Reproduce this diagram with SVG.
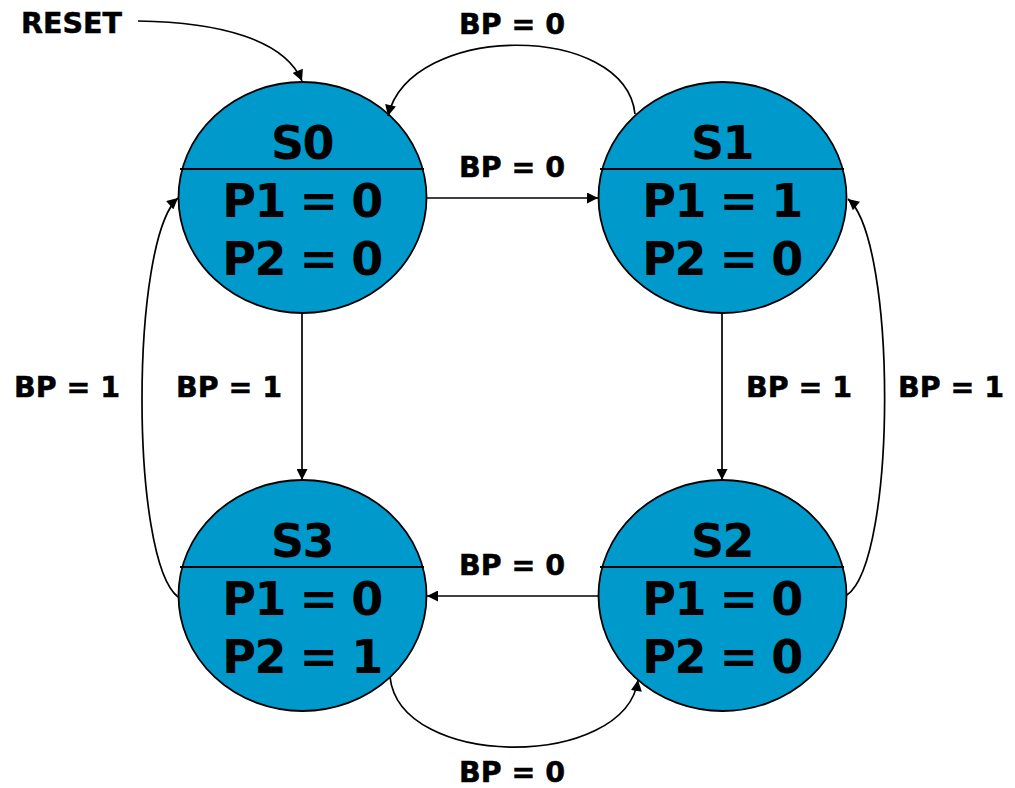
<svg xmlns="http://www.w3.org/2000/svg" width="1015" height="788" viewBox="0 0 1015 788">
<style>
.st{fill:#0099cc;stroke:#000;stroke-width:1.8}
.dv{stroke:#000;stroke-width:1.8}
.big{font-family:"DejaVu Sans",Verdana,sans-serif;font-weight:bold;font-size:46px;letter-spacing:-1.5px;text-anchor:middle;fill:#000}
.lbl{font-family:"DejaVu Sans",Verdana,sans-serif;font-weight:bold;font-size:28.5px;text-anchor:middle;fill:#000;stroke:#000;stroke-width:0.5}
.c{fill:none;stroke:#000;stroke-width:1.7;marker-end:url(#ah)}
</style>
<defs>
<marker id="ah" viewBox="0 0 10 10" refX="10" refY="5" markerWidth="12" markerHeight="11" markerUnits="userSpaceOnUse" orient="auto">
<path d="M0,0 L10,5 L0,10 z" fill="#000"/>
</marker>
</defs>
<g id="S0">
<ellipse class="st" cx="302.5" cy="197.5" rx="124" ry="115.5"/>
<line class="dv" x1="180" y1="169" x2="424" y2="169"/>
<text class="big" x="302" y="159">S0</text>
<text class="big" x="302" y="217">P1 = 0</text>
<text class="big" x="302" y="275">P2 = 0</text>
</g>
<g id="S1">
<ellipse class="st" cx="722.5" cy="197.5" rx="124" ry="115.5"/>
<line class="dv" x1="600" y1="169" x2="844" y2="169"/>
<text class="big" x="722" y="159">S1</text>
<text class="big" x="722" y="217">P1 = 1</text>
<text class="big" x="722" y="275">P2 = 0</text>
</g>
<g id="S3">
<ellipse class="st" cx="302.5" cy="595.5" rx="124" ry="115.5"/>
<line class="dv" x1="180" y1="567" x2="424" y2="567"/>
<text class="big" x="302" y="557">S3</text>
<text class="big" x="302" y="615">P1 = 0</text>
<text class="big" x="302" y="673">P2 = 1</text>
</g>
<g id="S2">
<ellipse class="st" cx="722.5" cy="595.5" rx="124" ry="115.5"/>
<line class="dv" x1="600" y1="567" x2="844" y2="567"/>
<text class="big" x="722" y="557">S2</text>
<text class="big" x="722" y="615">P1 = 0</text>
<text class="big" x="722" y="673">P2 = 0</text>
</g>
<g id="connectors">
<path class="c" d="M138,21 C220,22 285,40 302,81"/>
<path class="c" d="M635,114 C625,22 410,22 388,116"/>
<path class="c" d="M427,198 L598,198"/>
<path class="c" d="M302,313 L302,480"/>
<path class="c" d="M722,313 L722,480"/>
<path class="c" d="M598,596 L427,596"/>
<path class="c" d="M178,597 C130,560 130,240 178,198"/>
<path class="c" d="M847,595 C897,560 897,240 848,199"/>
<path class="c" d="M390,677 C400,770 625,770 638,680"/>
</g>
<g id="labels">
<text class="lbl" style="text-anchor:start" x="21" y="33">RESET</text>
<text class="lbl" x="512" y="34">BP = 0</text>
<text class="lbl" x="512" y="177">BP = 0</text>
<text class="lbl" x="512" y="575">BP = 0</text>
<text class="lbl" x="512" y="782">BP = 0</text>
<text class="lbl" x="67" y="397">BP = 1</text>
<text class="lbl" x="229" y="397">BP = 1</text>
<text class="lbl" x="799" y="397">BP = 1</text>
<text class="lbl" x="951" y="397">BP = 1</text>
</g>
</svg>
